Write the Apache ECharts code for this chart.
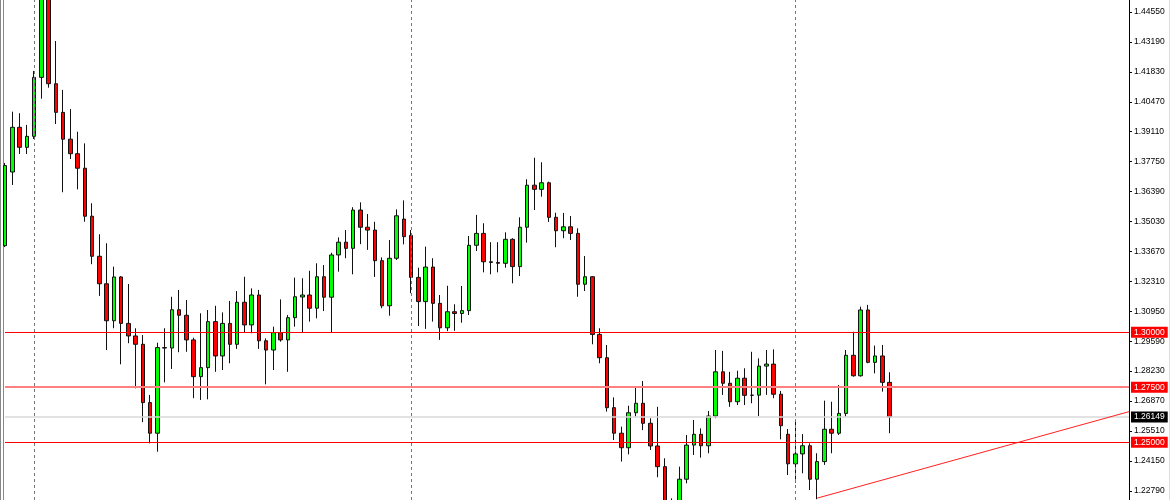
<!DOCTYPE html>
<html><head><meta charset="utf-8">
<script src="https://cdn.jsdelivr.net/npm/echarts@6/dist/echarts.min.js"></script>
<style>html,body{margin:0;padding:0;background:#fff}#c{width:1170px;height:500px}</style>
</head><body><div id="c"></div><script>
// Weekly candles
const opens = [1.3393,1.3728,1.3931,1.3840,1.3890,1.4158,1.4560,1.4129,1.3999,1.3877,
1.3811,1.3745,1.3527,1.3345,1.3220,1.3052,1.3251,1.3040,1.2983,1.2945,
1.2680,1.2541,1.2930,1.2928,1.3102,1.3077,1.2965,1.2798,1.2839,1.3048,
1.2892,1.3040,1.2945,1.3136,1.3033,1.3169,1.2961,1.2919,1.2998,1.2965,
1.3066,1.3160,1.3169,1.3109,1.3252,1.3159,1.3351,1.3409,1.3381,1.3555,
1.3477,1.3464,1.3325,1.3120,1.3336,1.3514,1.3440,1.3249,1.3139,1.3296,
1.3131,1.3020,1.3093,1.3085,1.3098,1.3395,1.3449,1.3320,1.3317,1.3313,
1.3422,1.3298,1.3477,1.3668,1.3649,1.3679,1.3522,1.3461,1.3479,1.3449,
1.3218,1.3252,1.2990,1.2884,1.2657,1.2541,1.2475,1.2634,1.2677,1.2586,
1.2483,1.2389,1.2225,1.2220,1.2332,1.2487,1.2536,1.2484,1.2619,1.2820,
1.2768,1.2684,1.2791,1.2713,1.2714,1.2846,1.2855,1.2718,1.2536,1.2402,
1.2447,1.2484,1.2332,1.2412,1.2559,1.2541,1.2631,1.2895,1.2802,1.3101,
1.2863,1.2892,1.2772];
const closes = [1.3757,1.3931,1.3840,1.3890,1.4158,1.4570,1.4129,1.3999,1.3877,1.3811,
1.3745,1.3527,1.3345,1.3220,1.3052,1.3251,1.3040,1.2983,1.2945,1.2680,
1.2541,1.2930,1.2928,1.3102,1.3077,1.2965,1.2798,1.2839,1.3048,1.2892,
1.3040,1.2945,1.3136,1.3033,1.3169,1.2961,1.2919,1.2998,1.2965,1.3066,
1.3161,1.3169,1.3109,1.3252,1.3159,1.3351,1.3409,1.3381,1.3555,1.3477,
1.3464,1.3325,1.3120,1.3336,1.3529,1.3434,1.3249,1.3139,1.3296,1.3131,
1.3020,1.3093,1.3085,1.3098,1.3395,1.3449,1.3320,1.3317,1.3313,1.3422,
1.3298,1.3477,1.3668,1.3649,1.3679,1.3522,1.3461,1.3479,1.3449,1.3218,
1.3252,1.2990,1.2884,1.2657,1.2541,1.2475,1.2634,1.2677,1.2586,1.2483,
1.2389,1.2225,1.2215,1.2332,1.2487,1.2536,1.2484,1.2619,1.2820,1.2768,
1.2684,1.2791,1.2713,1.2714,1.2846,1.2855,1.2718,1.2575,1.2402,1.2447,
1.2484,1.2332,1.2412,1.2559,1.2541,1.2631,1.2895,1.2802,1.3101,1.2863,
1.2892,1.2772,1.26149];
const lows = [1.3387,1.3669,1.3810,1.3810,1.3878,1.4061,1.4111,1.3946,1.3636,1.3787,
1.3649,1.3502,1.3309,1.3165,1.2919,1.3018,1.2854,1.2950,1.2745,1.2591,
1.2495,1.2457,1.2772,1.2833,1.2909,1.2911,1.2700,1.2692,1.2695,1.2820,
1.2828,1.2859,1.2924,1.2999,1.2995,1.2924,1.2763,1.2828,1.2957,1.2820,
1.3025,1.2998,1.3048,1.3063,1.3096,1.2998,1.3275,1.3336,1.3263,1.3400,
1.3374,1.3251,1.3109,1.3075,1.3328,1.3399,1.3177,1.3028,1.3015,1.3048,
1.2965,1.3005,1.3006,1.3043,1.3078,1.3369,1.3272,1.3263,1.3272,1.3293,
1.3222,1.3255,1.3407,1.3555,1.3616,1.3501,1.3386,1.3427,1.3419,1.3161,
1.3187,1.2945,1.2859,1.2639,1.2510,1.2412,1.2445,1.2616,1.2555,1.2465,
1.2341,1.2200,1.2180,1.2195,1.2313,1.2442,1.2430,1.2450,1.2609,1.2715,
1.2661,1.2669,1.2669,1.2677,1.2619,1.2715,1.2700,1.2513,1.2351,1.2316,
1.2359,1.2283,1.2241,1.2397,1.2450,1.2533,1.2616,1.2798,1.2798,1.2859,
1.2813,1.2730,1.2541];
const highs = [1.3769,1.4002,1.3995,1.3942,1.4187,1.4600,1.4590,1.4323,1.4101,1.4014,
1.3911,1.3858,1.3586,1.3445,1.3404,1.3298,1.3255,1.3219,1.3018,1.2987,
1.2715,1.2952,1.3018,1.3161,1.3192,1.3146,1.2975,1.3086,1.3101,1.3120,
1.3090,1.3142,1.3187,1.3252,1.3199,1.3192,1.2972,1.3025,1.3149,1.3078,
1.3248,1.3245,1.3279,1.3313,1.3305,1.3361,1.3431,1.3464,1.3568,1.3590,
1.3537,1.3502,1.3340,1.3419,1.3558,1.3599,1.3464,1.3293,1.3389,1.3336,
1.3169,1.3211,1.3127,1.3210,1.3437,1.3533,1.3495,1.3409,1.3409,1.3454,
1.3427,1.3522,1.3695,1.3793,1.3772,1.3684,1.3543,1.3542,1.3528,1.3472,
1.3346,1.3255,1.3018,1.2942,1.2704,1.2571,1.2666,1.2752,1.2778,1.2609,
1.2661,1.2427,1.2245,1.2389,1.2533,1.2601,1.2563,1.2642,1.2919,1.2915,
1.2820,1.2825,1.2836,1.2911,1.2881,1.2919,1.2922,1.2733,1.2560,1.2601,
1.2537,1.2495,1.2450,1.2689,1.2684,1.2760,1.2919,1.3002,1.3116,1.3124,
1.2939,1.2942,1.2818];
const priceTicks = [1.44550,1.43190,1.41830,1.40470,1.39110,1.37750,1.36390,1.35030,1.33670,
1.32310,1.30950,1.29590,1.28230,1.26870,1.25510,1.24150,1.22790];
const levels = [1.30000, 1.27500, 1.25000];
const currentPrice = 1.26149;
const separatorIdx = [4, 56, 109];
const trendStart = [112, 1.2246];
const trendEnd = [155, 1.2639];
const slotCount = 156;
const categories = Array.from({length: slotCount}, (_, i) => 'W' + (i + 1));

const candles = opens.map((o, i) => [o, closes[i], lows[i], highs[i]]);
const fmt = v => Number(v).toFixed(5);
const tagLabel = (bg) => ({
  show: true, position: 'end', distance: 2, formatter: p => fmt(p.value),
  backgroundColor: bg, color: '#fff', padding: [1, 3, 1, 3],
  fontSize: 8.5, fontFamily: 'Liberation Sans, Arial, sans-serif', lineHeight: 9
});
const levelStyles = [
  {color: '#ff0000', width: 1},
  {color: '#ff8080', width: 2},
  {color: '#ff0000', width: 1}
];
const markData = [];
separatorIdx.forEach(i => markData.push({
  xAxis: categories[i], label: {show: false},
  lineStyle: {color: '#777', type: [3, 3], width: 1}
}));
markData.push({yAxis: currentPrice, lineStyle: {color: '#d9d9d9', width: 1.5, type: 'solid'}, label: tagLabel('#000')});
levels.forEach((v, k) => markData.push({
  yAxis: v, lineStyle: Object.assign({type: 'solid'}, levelStyles[k]), label: tagLabel('#ff0000')
}));
markData.push([
  {coord: [categories[trendStart[0]], trendStart[1]], lineStyle: {color: '#ff2020', width: 1, type: 'solid'}, label: {show: false}},
  {coord: [categories[trendEnd[0]], trendEnd[1]]}
]);

const chart = echarts.init(document.getElementById('c'), null, {renderer: 'canvas'});
chart.setOption({
  animation: false,
  backgroundColor: '#fff',
  grid: {left: 5, right: 41, top: 0, bottom: 0, containLabel: false},
  xAxis: {type: 'category', data: categories, boundaryGap: false, show: false},
  yAxis: {
    type: 'value', position: 'right', min: 1.22375, max: 1.45095,
    axisLine: {show: true, lineStyle: {color: '#000', width: 1}},
    axisTick: {show: true, length: 3, customValues: priceTicks, lineStyle: {color: '#000'}},
    axisLabel: {show: true, customValues: priceTicks, formatter: v => fmt(v), margin: 5,
      color: '#000', fontSize: 8.5, fontFamily: 'Liberation Sans, Arial, sans-serif'},
    splitLine: {show: false}
  },
  graphic: [
    {type: 'line', shape: {x1: 0.5, y1: 0, x2: 0.5, y2: 500}, style: {stroke: '#888', lineWidth: 1}},
    {type: 'line', shape: {x1: 3.5, y1: 0, x2: 3.5, y2: 500}, style: {stroke: '#888', lineWidth: 1}},
    {type: 'line', shape: {x1: 1169.5, y1: 0, x2: 1169.5, y2: 500}, style: {stroke: '#ddd', lineWidth: 1}}
  ],
  series: [{
    type: 'candlestick',
    data: candles,
    clip: true,
    barWidth: 4,
    itemStyle: {color: '#00ff00', color0: '#ff0000', borderColor: '#111', borderColor0: '#111', borderWidth: 1},
    markLine: {silent: true, precision: 5, symbol: ['none', 'none'], animation: false, data: markData}
  }]
});
</script></body></html>
